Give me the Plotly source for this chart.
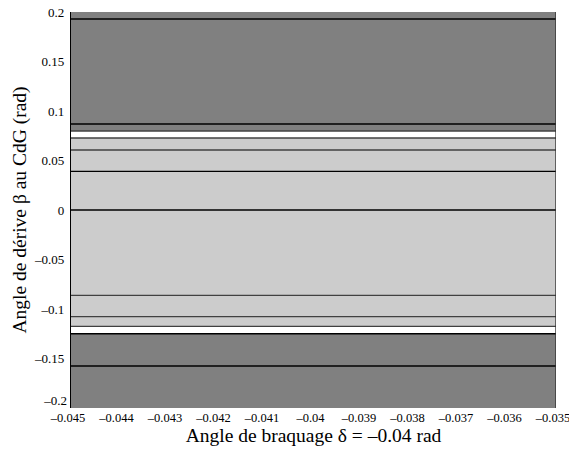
import plotly.graph_objects as go

# ---- data ----
x_range = [-0.045, -0.035]
band_lower = [-0.2, -0.1175, 0.0798]
band_upper = [-0.125, 0.0727, 0.2]
band_kind = ["dark", "light", "dark"]

line_levels = [0.193, 0.0869, 0.0798, 0.0727, 0.0606, 0.039, 0.0,
               -0.0862, -0.1077, -0.1175, -0.125, -0.1576]
line_kind = ["edge", "edge", "soft", "soft", "soft", "edge", "edge",
             "soft", "soft", "soft", "edge", "edge"]

x_ticks = [-0.045, -0.044, -0.043, -0.042, -0.041, -0.04, -0.039, -0.038, -0.037, -0.036, -0.035]
x_ticklabels = ["–0.045", "–0.044", "–0.043", "–0.042", "–0.041", "–0.04", "–0.039",
                "–0.038", "–0.037", "–0.036", "–0.035"]
y_ticks = [-0.2, -0.15, -0.1, -0.05, 0, 0.05, 0.1, 0.15, 0.2]
y_ticklabels = ["–0.2", "–0.15", "–0.1", "–0.05", "0", "0.05", "0.1", "0.15", "0.2"]

x_title = "Angle de braquage δ = –0.04 rad"
y_title = "Angle de dérive β au CdG (rad)"

# ---- styles ----
fill_colors = {"dark": "#808080", "light": "#cccccc"}
line_colors = {"edge": "#000000", "soft": "#404040"}
FONT = "Liberation Serif, Times New Roman, serif"

fig = go.Figure()
x0, x1 = x_range
y_lo, y_hi = y_ticks[0], y_ticks[-1]
for lo, hi, kind in zip(band_lower, band_upper, band_kind):
    fig.add_trace(go.Scatter(
        x=[x0, x1, x1, x0, x0], y=[lo, lo, hi, hi, lo],
        fill="toself", fillcolor=fill_colors[kind], mode="lines",
        line=dict(width=0), hoverinfo="skip", showlegend=False))

for lv, kind in zip(line_levels, line_kind):
    fig.add_trace(go.Scatter(
        x=[x0, x1], y=[lv, lv], mode="lines",
        line=dict(color=line_colors[kind], width=1.4),
        hoverinfo="skip", showlegend=False))

# right border line
fig.add_trace(go.Scatter(
    x=[x1, x1], y=[y_lo, y_hi], mode="lines",
    line=dict(color="#333333", width=1.4), hoverinfo="skip", showlegend=False))

# invisible anchor so the secondary y axis (bottom label) is drawn
fig.add_trace(go.Scatter(
    x=[x0], y=[y_lo], yaxis="y2", mode="markers", marker=dict(opacity=0),
    hoverinfo="skip", showlegend=False))

common_y = dict(range=[y_lo, y_hi], showgrid=False, zeroline=False, ticks="",
                automargin=False, ticklabeloverflow="allow",
                tickfont=dict(size=13, family=FONT), ticklabelstandoff=3)

fig.update_layout(
    width=569, height=450,
    margin=dict(l=71, r=13, t=12, b=42),
    paper_bgcolor="white", plot_bgcolor="white",
    font=dict(family=FONT, color="black", size=13),
    xaxis=dict(range=[x0, x1], tickvals=x_ticks, ticktext=x_ticklabels,
               showgrid=False, zeroline=False, showline=False, ticks="",
               automargin=False, ticklabeloverflow="allow", ticklabelshift=-3,
               tickfont=dict(size=12.5, family=FONT), ticklabelstandoff=0,
               title=dict(text=x_title, font=dict(size=19.5, family=FONT), standoff=4)),
    yaxis=dict(tickvals=y_ticks[1:], ticktext=y_ticklabels[1:],
               showline=True, linecolor="black", linewidth=1.4,
               title=dict(text=y_title, font=dict(size=19.5, family=FONT), standoff=2),
               **common_y),
    yaxis2=dict(overlaying="y", side="left", anchor="x", tickvals=y_ticks[:1],
                ticktext=y_ticklabels[:1], showline=False, ticklabelshift=-8, **common_y),
)

fig.write_html("out.html", config={"displayModeBar": False},
               post_script="document.body.style.margin='0';")
